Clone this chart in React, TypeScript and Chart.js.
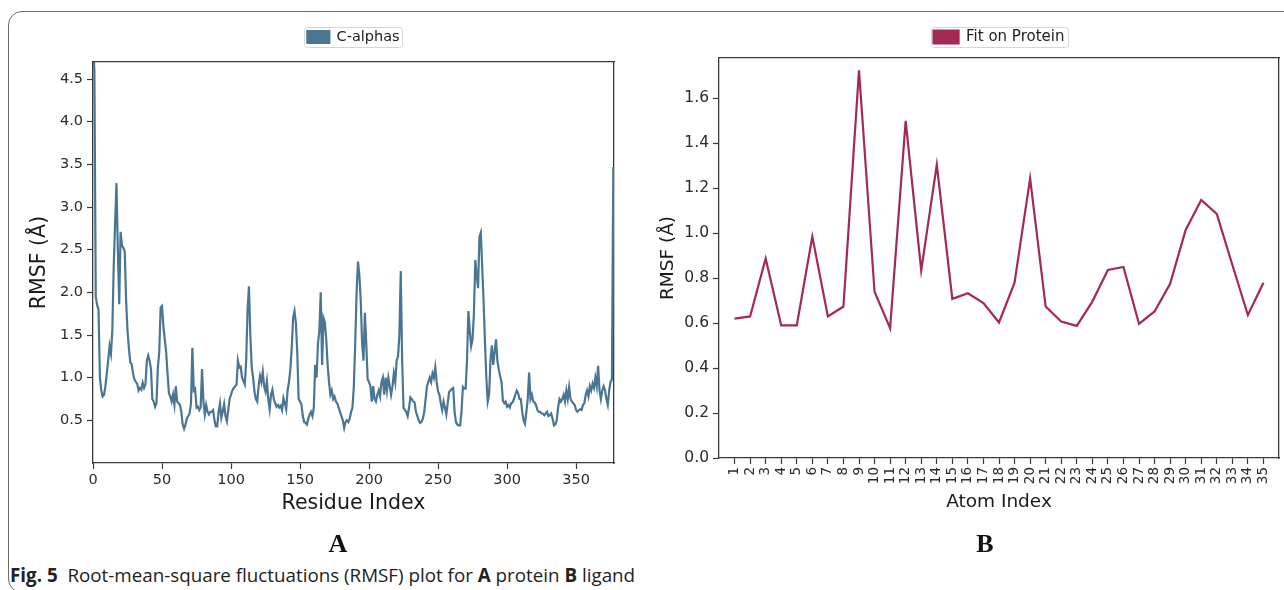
import React, { useEffect, useRef } from "react";
import { Chart, registerables } from "chart.js";

Chart.register(...registerables);

// ---------- DATA ----------
// Panel A: C-alpha RMSF per residue index (0..377)
const residueRmsf: number[] = [
  4.95, 4.6, 1.95, 1.85, 1.8, 1.0, 0.85, 0.78, 0.8, 0.9,
  1.05, 1.2, 1.37, 1.28, 1.55, 2.3, 2.8, 3.28, 2.5, 1.86,
  2.71, 2.55, 2.52, 2.48, 1.9, 1.55, 1.35, 1.18, 1.16, 1.05,
  0.98, 0.95, 0.93, 0.85, 0.88, 0.86, 0.94, 0.88, 0.92, 1.2,
  1.26, 1.2, 1.1, 0.75, 0.72, 0.66, 0.7, 1.12, 1.3, 1.82,
  1.84, 1.6, 1.45, 1.3, 1.05, 0.82, 0.78, 0.72, 0.8, 0.68,
  0.9, 0.72, 0.7, 0.68, 0.6, 0.45, 0.4, 0.45, 0.52, 0.55,
  0.58, 0.7, 1.35, 0.85, 0.87, 0.65, 0.66, 0.62, 0.65, 1.1,
  0.72, 0.57, 0.68, 0.6, 0.57, 0.6, 0.6, 0.62, 0.5, 0.43,
  0.43, 0.6, 0.7, 0.53, 0.6, 0.69, 0.55, 0.49, 0.62, 0.75,
  0.8, 0.85, 0.88, 0.9, 0.92, 1.2, 1.12, 1.13, 1.0, 0.96,
  0.92, 1.2, 1.8, 2.07, 1.5, 1.12, 1.0, 0.84, 0.75, 0.72,
  0.9, 1.02, 0.95, 1.07, 0.9, 0.84, 0.96, 0.75, 0.63, 0.8,
  0.86, 0.75, 0.7, 0.66, 0.68, 0.65, 0.67, 0.62, 0.76, 0.7,
  0.63, 0.85, 0.95, 1.1, 1.35, 1.7, 1.78, 1.64, 1.3, 0.75,
  0.72, 0.69, 0.55, 0.48, 0.47, 0.45, 0.52, 0.57, 0.6, 0.55,
  0.65, 1.15, 1.0, 1.4, 1.55, 2.0, 1.15, 1.7, 1.65, 1.45,
  1.15, 0.95, 0.8, 0.85, 0.75, 0.78, 0.72, 0.7, 0.65, 0.6,
  0.55, 0.5, 0.41, 0.48, 0.5, 0.48, 0.52, 0.6, 0.65, 0.9,
  1.4, 2.0, 2.36, 2.2, 1.9, 1.4, 1.2, 1.76, 1.4, 0.98,
  0.95, 0.9, 0.72, 0.9, 0.75, 0.72, 0.8, 0.85, 0.78, 0.95,
  1.0, 0.8, 1.0, 0.85, 1.0, 0.9, 0.8, 0.9, 1.05, 0.95,
  1.2, 1.25, 1.5, 2.25, 1.2, 0.65, 0.62, 0.6, 0.55, 0.65,
  0.77, 0.75, 0.72, 0.71, 0.6, 0.55, 0.5, 0.47, 0.48, 0.52,
  0.6, 0.75, 0.9, 0.95, 1.0, 0.95, 1.05, 1.0, 1.12, 0.95,
  0.84, 0.8, 0.7, 0.62, 0.72, 0.65, 0.57, 0.7, 0.83, 0.85,
  0.87, 0.88, 0.6, 0.48, 0.45, 0.44, 0.44, 0.6, 0.89, 0.87,
  0.87, 1.2, 1.78, 1.55, 1.37, 1.45, 1.75, 2.38, 2.2, 2.05,
  2.65, 2.7, 2.3, 1.9, 1.42, 1.0, 0.72, 0.8, 1.2, 1.38,
  1.15, 1.3, 1.45, 1.2, 1.1, 1.02, 0.95, 0.73, 0.7, 0.72,
  0.66, 0.68, 0.65, 0.7, 0.71, 0.75, 0.8, 0.85, 0.82, 0.75,
  0.75, 0.6, 0.5, 0.46, 0.6, 0.75, 1.06, 0.75, 0.8, 0.72,
  0.71, 0.68, 0.62, 0.6, 0.6, 0.58, 0.58, 0.56, 0.58, 0.6,
  0.55, 0.56, 0.58, 0.52, 0.44, 0.45, 0.5, 0.65, 0.75, 0.72,
  0.75, 0.8, 0.72, 0.85, 0.75, 0.89, 0.75, 0.72, 0.7, 0.68,
  0.62, 0.6, 0.62, 0.63, 0.62, 0.68, 0.7, 0.8, 0.85, 0.78,
  0.9, 0.85, 0.93, 0.88, 1.0, 0.9, 1.14, 0.85, 0.75, 0.85,
  0.9, 0.85, 0.75, 0.68, 0.85, 0.95, 0.98, 3.47,
];
const residueXTicks: number[] = [0, 50, 100, 150, 200, 250, 300, 350];
const residueYTicks: number[] = [0.5, 1.0, 1.5, 2.0, 2.5, 3.0, 3.5, 4.0, 4.5];

// Panel B: ligand atom RMSF (fit on protein)
const atomIndex: number[] = [
  1, 2, 3, 4, 5, 6, 7, 8, 9, 10, 11, 12, 13, 14, 15, 16, 17, 18,
  19, 20, 21, 22, 23, 24, 25, 26, 27, 28, 29, 30, 31, 32, 33, 34, 35,
];
const atomRmsf: number[] = [
  0.62, 0.63, 0.888, 0.59, 0.59, 0.985, 0.63, 0.674, 1.725, 0.74,
  0.578, 1.5, 0.835, 1.305, 0.708, 0.733, 0.689, 0.603, 0.78, 1.244,
  0.674, 0.607, 0.588, 0.696, 0.837, 0.85, 0.597, 0.652, 0.775, 1.015,
  1.148, 1.086, 0.86, 0.636, 0.78,
];
const atomYTicks: number[] = [0, 0.2, 0.4, 0.6, 0.8, 1.0, 1.2, 1.4, 1.6];

// ---------- STYLE ----------
const FONT = "'DejaVu Sans', sans-serif";
const BLUE = "#4a7694";
const CRIMSON = "#a32a55";
const SPINE = "#3a3a3a";
const TICKTXT = "#2a2a2a";

const legendFrame = {
  id: "legendFrame",
  beforeDraw(chart: any) {
    const lg = chart.legend;
    if (!lg || !lg.legendHitBoxes || !lg.legendHitBoxes.length) return;
    const hb = lg.legendHitBoxes[0];
    const ctx = chart.ctx;
    ctx.save();
    const x = Math.round(hb.left - 3) + 0.5;
    const y = Math.round(hb.top - 3) + 0.5;
    const w = Math.round(hb.width + 6);
    const h = Math.round(hb.height + 5);
    ctx.beginPath();
    if (ctx.roundRect) ctx.roundRect(x, y, w, h, 3);
    else ctx.rect(x, y, w, h);
    ctx.fillStyle = "#ffffff";
    ctx.fill();
    ctx.strokeStyle = "#d6d6d6";
    ctx.lineWidth = 1;
    ctx.stroke();
    ctx.restore();
  },
};

function spineAxis(position: "top" | "right", size: number) {
  return {
    type: "linear",
    position,
    display: true,
    grid: { display: false },
    ticks: { display: false },
    border: { display: true, color: SPINE, width: 1.3 },
    afterFit: (s: any) => {
      if (position === "top") s.height = size;
      else s.width = size;
    },
  };
}

function ResidueChart() {
  const ref = useRef<HTMLCanvasElement | null>(null);
  useEffect(() => {
    if (!ref.current) return;
    const chart = new Chart(ref.current, {
      type: "line",
      data: {
        datasets: [
          {
            label: "C-alphas",
            data: residueRmsf.map((v, i) => ({ x: i, y: v })),
            borderColor: BLUE,
            backgroundColor: BLUE,
            borderWidth: 2.2,
            pointRadius: 0,
            tension: 0,
          },
        ],
      },
      options: {
        responsive: false,
        animation: false,
        devicePixelRatio: 1,
        layout: { padding: { left: 0, right: 0, top: 19.75, bottom: 0 } },
        plugins: {
          legend: {
            display: true,
            position: "top",
            fullSize: false,
            labels: {
              boxWidth: 22,
              boxHeight: 12,
              padding: 10,
              color: "#222",
              font: { family: FONT, size: 14.5 },
            },
          },
          tooltip: { enabled: false },
        },
        scales: {
          x: {
            type: "linear",
            min: 0,
            max: 377.5,
            afterBuildTicks: (s: any) => {
              s.ticks = residueXTicks.map((v) => ({ value: v }));
            },
            afterFit: (s: any) => {
              s.height = 67;
            },
            grid: {
              display: true,
              drawOnChartArea: false,
              drawTicks: true,
              tickLength: 6,
              tickColor: SPINE,
              tickWidth: 1.2,
            },
            border: { display: true, color: SPINE, width: 1.3 },
            ticks: {
              color: TICKTXT,
              font: { family: FONT, size: 14.5 },
              padding: 3,
              maxRotation: 0,
              autoSkip: false,
              callback: (v: any) => String(v),
            },
            title: {
              display: true,
              text: "Residue Index",
              color: "#1a1a1a",
              font: { family: FONT, size: 20.5 },
              padding: { top: 0, bottom: 13.7 },
            },
          },
          x2: spineAxis("top", 7.75) as any,
          y: {
            type: "linear",
            min: 0,
            max: 4.7,
            afterBuildTicks: (s: any) => {
              s.ticks = residueYTicks.map((v) => ({ value: v }));
            },
            afterFit: (s: any) => {
              s.width = 93;
            },
            grid: {
              display: true,
              drawOnChartArea: false,
              drawTicks: true,
              tickLength: 6,
              tickColor: SPINE,
              tickWidth: 1.2,
            },
            border: { display: true, color: SPINE, width: 1.3 },
            ticks: {
              color: TICKTXT,
              font: { family: FONT, size: 14.5 },
              padding: 4,
              autoSkip: false,
              callback: (v: any) => Number(v).toFixed(1),
            },
            title: {
              display: true,
              text: "RMSF (Å)",
              color: "#1a1a1a",
              font: { family: FONT, size: 20.5 },
              padding: { top: 27.7, bottom: 0 },
            },
          },
          y2: spineAxis("right", 26) as any,
        },
      } as any,
      plugins: [legendFrame],
    });
    return () => chart.destroy();
  }, []);
  return <canvas ref={ref} width={640} height={530} style={{ position: "absolute", left: 0, top: 0 }} />;
}

function AtomChart() {
  const ref = useRef<HTMLCanvasElement | null>(null);
  useEffect(() => {
    if (!ref.current) return;
    const chart = new Chart(ref.current, {
      type: "line",
      data: {
        datasets: [
          {
            label: "Fit on Protein",
            data: atomIndex.map((a, i) => ({ x: a, y: atomRmsf[i] })),
            borderColor: CRIMSON,
            backgroundColor: CRIMSON,
            borderWidth: 2.2,
            pointRadius: 0,
            tension: 0,
          },
        ],
      },
      options: {
        responsive: false,
        animation: false,
        devicePixelRatio: 1,
        layout: { padding: { left: 0, right: 0, top: 19.5, bottom: 0 } },
        plugins: {
          legend: {
            display: true,
            position: "top",
            fullSize: false,
            labels: {
              boxWidth: 25,
              boxHeight: 13,
              padding: 10,
              color: "#222",
              font: { family: FONT, size: 15 },
            },
          },
          tooltip: { enabled: false },
        },
        scales: {
          x: {
            type: "linear",
            min: 0,
            max: 36,
            afterBuildTicks: (s: any) => {
              s.ticks = atomIndex.map((v) => ({ value: v }));
            },
            afterFit: (s: any) => {
              s.height = 72;
            },
            grid: {
              display: true,
              drawOnChartArea: false,
              drawTicks: true,
              tickLength: 6,
              tickColor: SPINE,
              tickWidth: 1.2,
            },
            border: { display: true, color: SPINE, width: 1.3 },
            ticks: {
              color: TICKTXT,
              font: { family: FONT, size: 13.5 },
              padding: 3,
              minRotation: 90,
              maxRotation: 90,
              autoSkip: false,
              callback: (v: any) => String(v),
            },
            title: {
              display: true,
              text: "Atom Index",
              color: "#1a1a1a",
              font: { family: FONT, size: 18.5 },
              padding: { top: 0, bottom: 17 },
            },
          },
          x2: spineAxis("top", 3.5) as any,
          y: {
            type: "linear",
            min: 0,
            max: 1.78,
            afterBuildTicks: (s: any) => {
              s.ticks = atomYTicks.map((v) => ({ value: v }));
            },
            afterFit: (s: any) => {
              s.width = 79;
            },
            grid: {
              display: true,
              drawOnChartArea: false,
              drawTicks: true,
              tickLength: 6,
              tickColor: SPINE,
              tickWidth: 1.2,
            },
            border: { display: true, color: SPINE, width: 1.3 },
            ticks: {
              color: TICKTXT,
              font: { family: FONT, size: 15.5 },
              padding: 4,
              autoSkip: false,
              callback: (v: any) => Number(v).toFixed(1),
            },
            title: {
              display: true,
              text: "RMSF (Å)",
              color: "#1a1a1a",
              font: { family: FONT, size: 18.5 },
              padding: { top: 17, bottom: 0 },
            },
          },
          y2: spineAxis("right", 5) as any,
        },
      } as any,
      plugins: [legendFrame],
    });
    return () => chart.destroy();
  }, []);
  return <canvas ref={ref} width={644} height={530} style={{ position: "absolute", left: 640, top: 0 }} />;
}

export default function App() {
  return (
    <div
      style={{
        position: "absolute",
        left: 0,
        top: 0,
        width: 1284,
        height: 590,
        overflow: "hidden",
        background: "#ffffff",
      }}
    >
      <div
        style={{
          position: "absolute",
          left: 8,
          top: 11,
          width: 1320,
          height: 582,
          border: "1.5px solid #6a6a6a",
          borderRadius: 14,
          boxSizing: "border-box",
        }}
      />
      <ResidueChart />
      <AtomChart />
      <div
        style={{
          position: "absolute",
          left: 318,
          top: 528,
          width: 40,
          textAlign: "center",
          fontFamily: "'Liberation Serif', serif",
          fontWeight: "bold",
          fontSize: 26,
          lineHeight: "32px",
          color: "#111",
        }}
      >
        A
      </div>
      <div
        style={{
          position: "absolute",
          left: 965,
          top: 528,
          width: 40,
          textAlign: "center",
          fontFamily: "'Liberation Serif', serif",
          fontWeight: "bold",
          fontSize: 26,
          lineHeight: "32px",
          color: "#111",
        }}
      >
        B
      </div>
      <div
        style={{
          position: "absolute",
          left: 10,
          top: 563,
          whiteSpace: "nowrap",
          fontFamily: "'Open Sans', sans-serif",
          fontSize: 18.8,
          lineHeight: "24px",
          color: "#222",
        }}
      >
        <b>Fig. 5</b>&nbsp; Root-mean-square fluctuations (RMSF) plot for <b>A</b> protein <b>B</b> ligand
      </div>
    </div>
  );
}
